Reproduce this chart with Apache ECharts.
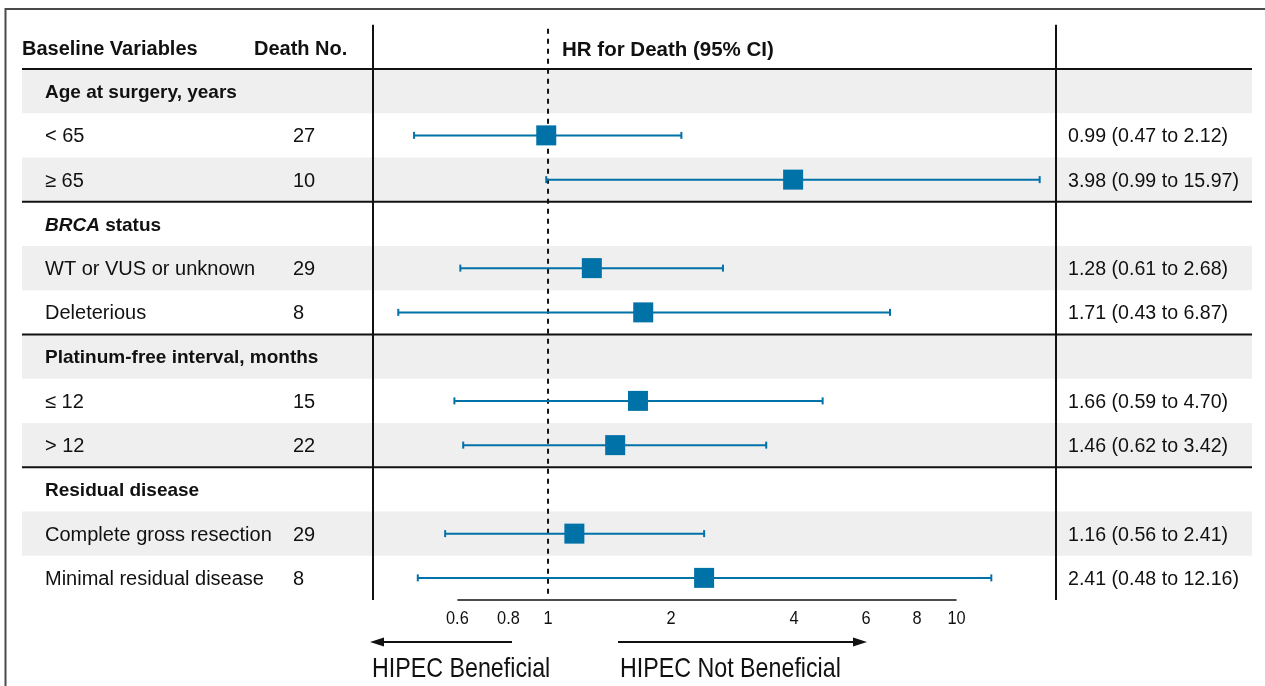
<!DOCTYPE html>
<html>
<head>
<meta charset="utf-8">
<title>HR for Death forest plot</title>
<script src="https://cdn.jsdelivr.net/npm/echarts@6/dist/echarts.min.js"></script>
<style>
  html, body { margin: 0; padding: 0; background: #fff; }
  #chart { width: 1265px; height: 686px; }
</style>
</head>
<body>
<div id="chart"></div>
<script>
// ---- data ----
const rowLabels = [
  'Age at surgery, years', '< 65', '≥ 65',
  '{i|BRCA} status', 'WT or VUS or unknown', 'Deleterious',
  'Platinum-free interval, months', '≤ 12', '> 12',
  'Residual disease', 'Complete gross resection', 'Minimal residual disease'
];
const rowIsGroup = [true, false, false, true, false, false, true, false, false, true, false, false];
const deaths   = [null, 27, 10, null, 29, 8, null, 15, 22, null, 29, 8];
const hrValues = [null, 0.99, 3.98, null, 1.28, 1.71, null, 1.66, 1.46, null, 1.16, 2.41];
const ciLower  = [null, 0.47, 0.99, null, 0.61, 0.43, null, 0.59, 0.62, null, 0.56, 0.48];
const ciUpper  = [null, 2.12, 15.97, null, 2.68, 6.87, null, 4.70, 3.42, null, 2.41, 12.16];
const axisTicks = [0.6, 0.8, 1, 2, 4, 6, 8, 10];
const sectionStarts = [0, 3, 6, 9];
const headers = ['Baseline Variables', 'Death No.', 'HR for Death (95% CI)'];

// ---- style ----
const FONT = '"Liberation Sans", Arial, Helvetica, sans-serif';
const BLUE = '#0072A8';
const BAND = '#efefef';
const INK = '#111';
const nRows = rowLabels.length;

// table column offsets (relative to table left edge)
const COL_LABEL = 23, COL_DEATH = 271, COL_HR = 1046;
const COL_HEAD_DEATH = 232, COL_HEAD_HR = 540;

const chart = echarts.init(document.getElementById('chart'), null, { renderer: 'canvas' });

const tableRows = rowLabels.map((_, i) => [i]);
const forestRows = [];
hrValues.forEach((v, i) => { if (v != null) forestRows.push([i, v, ciLower[i], ciUpper[i]]); });

function fmt(v) { return v.toFixed(2); }

function txt(x, y, text, size, weight, extra) {
  return { type: 'text', z2: 5, style: Object.assign({
    x: x, y: y, text: text, fontFamily: FONT, fontSize: size, fontWeight: weight || 'normal',
    fill: INK, verticalAlign: 'middle'
  }, extra || {}) };
}

const option = {
  animation: false,
  grid: [
    { left: 22, width: 1230, top: 24.75, height: 575.25 },
    { left: 373, width: 683, top: 24.75, height: 575.25 }
  ],
  xAxis: [
    { gridIndex: 0, type: 'value', min: 0, max: 1230, show: false },
    { gridIndex: 1, type: 'log', logBase: 10, min: 0.3729, max: 17.51, show: false }
  ],
  yAxis: [
    { gridIndex: 0, type: 'value', min: -1, max: nRows, inverse: true, show: false },
    { gridIndex: 1, type: 'value', min: -1, max: nRows, inverse: true, show: false }
  ],
  series: [
    // table: bands, texts, section rules
    {
      type: 'custom', xAxisIndex: 0, yAxisIndex: 0, z: 1, clip: false,
      data: tableRows,
      renderItem: function (params, api) {
        const i = api.value(0);
        const top = api.coord([0, i]);
        const bot = api.coord([1230, i + 1]);
        const cy = (top[1] + bot[1]) / 2 + 1.5;
        const x0 = top[0];
        const children = [];
        if (i % 2 === 0) {
          children.push({ type: 'rect', shape: { x: x0, y: top[1], width: bot[0] - x0, height: bot[1] - top[1] },
            style: { fill: BAND }, z2: 0 });
        }
        if (i === 0) {
          const hy = api.coord([0, -0.5])[1] + 3;
          children.push(txt(x0, hy, headers[0], 20, 'bold'));
          children.push(txt(x0 + COL_HEAD_DEATH, hy, headers[1], 20, 'bold'));
          children.push(txt(x0 + COL_HEAD_HR, hy, headers[2], 20.5, 'bold'));
        }
        const isGroup = rowIsGroup[i];
        children.push(txt(x0 + COL_LABEL, cy, rowLabels[i], isGroup ? 19 : 20, isGroup ? 'bold' : 'normal', {
          rich: { i: { fontFamily: FONT, fontSize: 19, fontWeight: 'bold', fontStyle: 'italic', fill: INK } }
        }));
        if (deaths[i] != null) {
          children.push(txt(x0 + COL_DEATH, cy, String(deaths[i]), 20));
        }
        if (hrValues[i] != null) {
          children.push(txt(x0 + COL_HR, cy,
            fmt(hrValues[i]) + ' (' + fmt(ciLower[i]) + ' to ' + fmt(ciUpper[i]) + ')', 19.6));
        }
        if (sectionStarts.indexOf(i) >= 0) {
          children.push({ type: 'line', shape: { x1: x0, y1: top[1], x2: bot[0], y2: top[1] },
            style: { stroke: INK, lineWidth: 2 }, z2: 6 });
        }
        return { type: 'group', children: children };
      }
    },
    // column rules and the line of no effect
    {
      type: 'custom', xAxisIndex: 1, yAxisIndex: 1, z: 2, clip: false,
      data: [[1]],
      renderItem: function (params, api) {
        const cs = params.coordSys;
        const yTop = api.coord([1, -1])[1];
        const yBot = api.coord([1, nRows])[1];
        const xRef = api.coord([api.value(0), 0])[0];
        return { type: 'group', children: [
          { type: 'line', shape: { x1: cs.x, y1: yTop, x2: cs.x, y2: yBot }, style: { stroke: INK, lineWidth: 2 } },
          { type: 'line', shape: { x1: cs.x + cs.width, y1: yTop, x2: cs.x + cs.width, y2: yBot }, style: { stroke: INK, lineWidth: 2 } },
          { type: 'line', shape: { x1: xRef, y1: yTop + 4, x2: xRef, y2: yBot - 2 }, style: { stroke: INK, lineWidth: 2, lineDash: [5, 5] } }
        ] };
      }
    },
    // bottom axis line
    {
      type: 'line', xAxisIndex: 1, yAxisIndex: 1, z: 3, clip: false, silent: true,
      symbol: 'none',
      data: [[axisTicks[0], nRows], [axisTicks[axisTicks.length - 1], nRows]],
      lineStyle: { color: INK, width: 1.5 }
    },
    // tick labels (condensed)
    {
      type: 'custom', xAxisIndex: 1, yAxisIndex: 1, z: 3, clip: false, silent: true,
      data: axisTicks.map(v => [v, nRows]),
      renderItem: function (params, api) {
        const p = api.coord([api.value(0), api.value(1)]);
        return { type: 'text', x: p[0], y: p[1] + 19, scaleX: 0.86,
          style: { x: 0, y: 0, text: String(api.value(0)), fontFamily: FONT, fontSize: 19,
            fill: INK, textAlign: 'center', verticalAlign: 'middle' } };
      }
    },
    // hazard ratios with 95% CI
    {
      type: 'custom', xAxisIndex: 1, yAxisIndex: 1, z: 4, clip: false,
      data: forestRows,
      encode: { x: [1, 2, 3], y: 0 },
      renderItem: function (params, api) {
        const row = api.value(0);
        const c = api.coord([api.value(1), row + 0.5]);
        const lo = api.coord([api.value(2), row + 0.5]);
        const hi = api.coord([api.value(3), row + 0.5]);
        const cap = 3.5, s = 20;
        return { type: 'group', children: [
          { type: 'line', shape: { x1: lo[0], y1: c[1], x2: hi[0], y2: c[1] }, style: { stroke: BLUE, lineWidth: 2 } },
          { type: 'line', shape: { x1: lo[0], y1: c[1] - cap, x2: lo[0], y2: c[1] + cap }, style: { stroke: BLUE, lineWidth: 2 } },
          { type: 'line', shape: { x1: hi[0], y1: c[1] - cap, x2: hi[0], y2: c[1] + cap }, style: { stroke: BLUE, lineWidth: 2 } },
          { type: 'rect', shape: { x: c[0] - s / 2, y: c[1] - s / 2, width: s, height: s }, style: { fill: BLUE } }
        ] };
      }
    }
  ],
  graphic: [
    // outer frame
    { type: 'polyline', shape: { points: [[5.5, 686], [5.5, 9], [1265, 9]] }, style: { stroke: '#4a4a4a', lineWidth: 2, fill: null } },
    // direction arrows
    { type: 'line', shape: { x1: 378, y1: 642, x2: 512, y2: 642 }, style: { stroke: INK, lineWidth: 2 } },
    { type: 'polygon', shape: { points: [[370, 642], [384, 637.5], [384, 646.5]] }, style: { fill: INK } },
    { type: 'line', shape: { x1: 618, y1: 642, x2: 858, y2: 642 }, style: { stroke: INK, lineWidth: 2 } },
    { type: 'polygon', shape: { points: [[867, 642], [853, 637.5], [853, 646.5]] }, style: { fill: INK } },
    // condensed captions under the arrows
    { type: 'text', x: 372, y: 669, scaleX: 0.83, style: { x: 0, y: 0, text: 'HIPEC Beneficial', fontFamily: FONT, fontSize: 28, fill: INK, verticalAlign: 'middle' } },
    { type: 'text', x: 620, y: 669, scaleX: 0.83, style: { x: 0, y: 0, text: 'HIPEC Not Beneficial', fontFamily: FONT, fontSize: 28, fill: INK, verticalAlign: 'middle' } }
  ]
};

chart.setOption(option);
</script>
</body>
</html>
